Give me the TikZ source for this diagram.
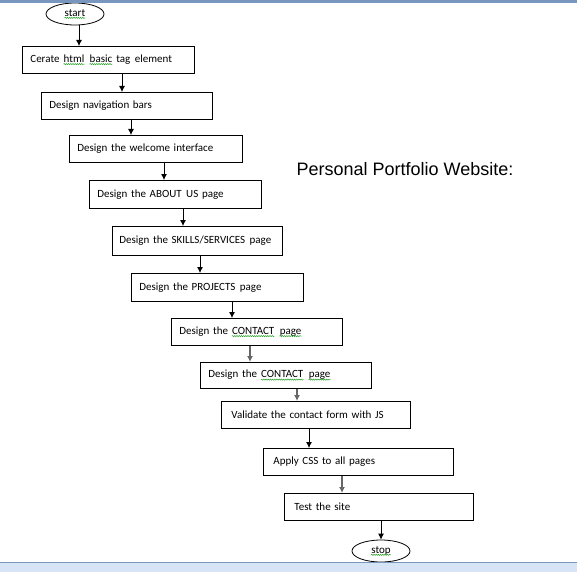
\documentclass[tikz,border=0pt]{standalone}
\usepackage{fontspec}
\setmainfont{Carlito}
\newfontfamily\titlefont{Liberation Sans}
\usetikzlibrary{arrows.meta,decorations.pathmorphing,shapes.geometric}

\definecolor{barblue}{RGB}{214,228,245}
\definecolor{barline}{RGB}{120,150,190}
\definecolor{spellgreen}{RGB}{40,160,40}

% green spell-check squiggle under a word
\newcommand{\squig}[1]{\tikz[baseline=(w.base)]{\node[shape=rectangle,draw=none,inner sep=0pt,
	minimum width=0pt,minimum height=0pt,text width=,align=none](w){#1};
	\draw[spellgreen,line width=0.5pt,decorate,decoration={snake,amplitude=0.6pt,segment length=2.2pt}]
	([yshift=-1.6pt]w.base west) -- ([yshift=-1.6pt]w.base east);}}
\newcommand{\wsp}{\hspace{4.5pt}}

\begin{document}
\begin{tikzpicture}
	[x=1pt,y=-1pt,
	font=\fontsize{11}{13}\selectfont,
	stepbox/.style={draw,line width=0.8pt,anchor=north west,align=left,
		inner xsep=8pt,inner ysep=0pt,minimum height=27pt},
	endbox/.style={draw,ellipse,line width=0.8pt,minimum width=58pt,minimum height=22pt,inner sep=0pt},
	arr/.style={-{Latex[length=6pt,width=6pt]},line width=0.8pt},
	grayarr/.style={arr,draw=black!60,fill=black!60,line width=1.3pt}
	]
	\useasboundingbox (0,0) rectangle (577,572);

	\node[endbox] (start) at (75,14) {\squig{start}};
	\node[stepbox,text width=156pt] (b1) at (22,46) {Cerate \squig{html}\wsp\squig{basic} tag\wsp element};
	\node[stepbox,text width=155pt] (b2) at (41,92) {Design navigation bars};
	\node[stepbox,text width=157pt] (b3) at (69,135) {Design the welcome interface};
	\node[stepbox,text width=156pt,minimum height=28pt] (b4) at (89,180) {Design the ABOUT\wsp US page};
	\node[stepbox,text width=156pt,inner xsep=7pt,minimum height=29pt] (b5) at (112,226) {Design the SKILLS/SERVICES\wsp page};
	\node[stepbox,text width=156pt,minimum height=28pt] (b6) at (131,273) {Design the PROJECTS\wsp page};
	\node[stepbox,text width=155pt] (b7) at (171,318) {Design the \squig{CONTACT}\wsp\squig{page}};
	\node[stepbox,text width=155pt,minimum height=26pt] (b8) at (200,362) {Design the \squig{CONTACT}\wsp\squig{page}};
	\node[stepbox,inner xsep=10pt,text width=169pt] (b9) at (221,401) {Validate the contact form with JS};
	\node[stepbox,inner xsep=10pt,text width=170pt] (b10) at (263,448) {Apply CSS to all pages};
	\node[stepbox,inner xsep=10pt,text width=169pt] (b11) at (284,493) {Test the site};
	\node[endbox] (stop) at (381,551) {\squig{stop}};

	\node[anchor=west,font=\titlefont\fontsize{18}{21}\selectfont] (title) at (293,169) {Personal Portfolio Website:};

	% connectors
	\draw[arr] ([xshift=4pt]start.south) coordinate (p) -- (p |- b1.north);
	\foreach \a/\b/\d in {b1/b2/100,b2/b3/90,b3/b4/95,b4/b5/94,b5/b6/88,b6/b7/101,b9/b10/88}
		\draw[arr] ([xshift=\d pt]\a.south west) coordinate (p) -- (p |- \b.north);
	\foreach \a/\b/\d in {b7/b8/79,b8/b9/97,b10/b11/79}
		\draw[grayarr] ([xshift=\d pt]\a.south west) coordinate (p) -- (p |- \b.north);
	\draw[arr] (b11.south -| stop.north) -- (stop.north);

	% window bars
	\fill[barline] (0,0) rectangle (577,3);
	\fill[barblue] (0,562) rectangle (577,572);
	\draw[barline,line width=1pt] (0,562) -- (577,562);
\end{tikzpicture}
\end{document}
